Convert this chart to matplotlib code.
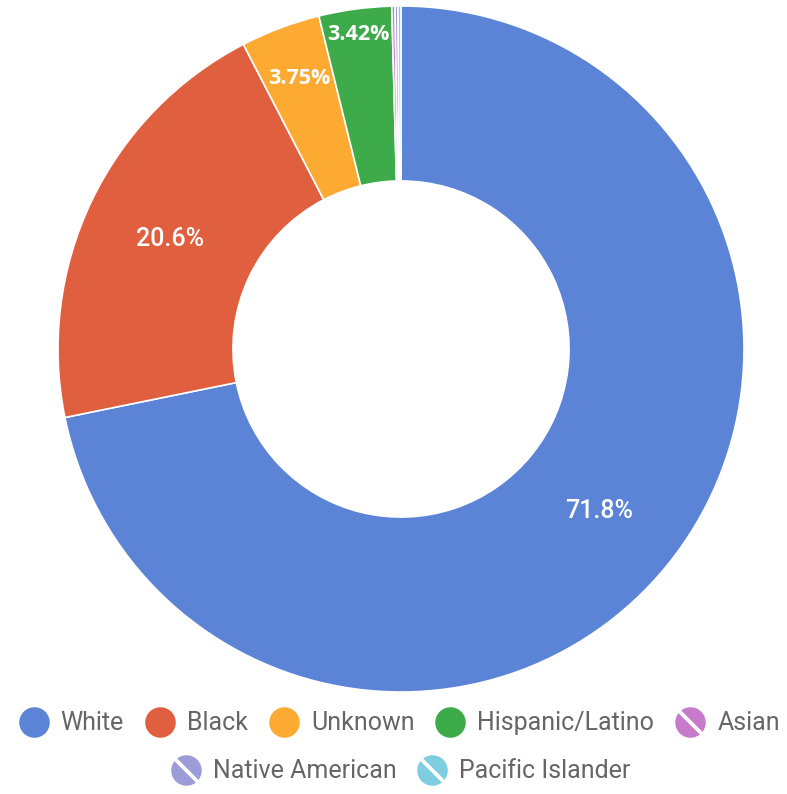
import numpy as np
import matplotlib
matplotlib.use("Agg")
import matplotlib.pyplot as plt
from matplotlib.patches import Patch
from matplotlib.lines import Line2D
from matplotlib.legend_handler import HandlerBase

labels = ["White", "Black", "Unknown", "Hispanic/Latino", "Asian",
          "Native American", "Pacific Islander"]
values = [71.8, 20.6, 3.75, 3.42, 0.15, 0.14, 0.14]
pct_text = ["71.8%", "20.6%", "3.75%", "3.42%", "", "", ""]
colors = ["#5b84d6", "#e05f3f", "#fdaa32", "#3eab4b", "#c97bcb",
          "#9c9cd8", "#7ecde0"]
striped = [False, False, False, False, True, True, True]


class CircleHandler(HandlerBase):
    """Кружок в легенде, по желанию с белой полосой"""
    def __init__(self, stripe=False):
        super().__init__()
        self.stripe = stripe

    def create_artists(self, legend, orig_handle, xdescent, ydescent,
                       width, height, fontsize, trans):
        cx = width / 2 - xdescent
        cy = height / 2 - ydescent
        dot = Line2D([cx], [cy], marker="o", markersize=23.5, ls="none",
                     markerfacecolor=orig_handle.get_facecolor(),
                     markeredgecolor="white", markeredgewidth=1.5,
                     transform=trans)
        arts = [dot]
        if self.stripe:
            # белая диагональ "\" через кружок
            ln = Line2D([cx], [cy], marker=(2, 2, 45), markersize=24,
                        ls="none", markeredgecolor="white",
                        markeredgewidth=2.5, transform=trans)
            arts.append(ln)
        return arts


fig = plt.figure(figsize=(7.87, 7.94), dpi=100)
W, H = 787, 794
cx_px, cy_px, R_px = 401, 349, 343
ax = fig.add_axes([(cx_px - R_px) / W, (H - cy_px - R_px) / H,
                   2 * R_px / W, 2 * R_px / H])

wedges, _ = ax.pie(values, colors=colors, startangle=90, counterclock=False,
                   radius=1.0,
                   wedgeprops=dict(width=0.51, edgecolor="white", linewidth=1.2))
ax.set_xlim(-1, 1)
ax.set_ylim(-1, 1)
ax.set_aspect("equal")
ax.axis("off")

# подписи процентов
label_r = [0.745, 0.745, 0.843, 0.925]
for i, w in enumerate(wedges[:4]):
    ang = np.deg2rad((w.theta1 + w.theta2) / 2)
    x, y = label_r[i] * np.cos(ang), label_r[i] * np.sin(ang)
    if i < 2:
        ax.text(x, y, pct_text[i], ha="center", va="center", color="white",
                fontsize=18, family="Roboto", fontweight="medium")
    else:
        ax.text(x, y, pct_text[i], ha="center", va="center", color="white",
                fontsize=15.5, family="Open Sans", fontweight="bold")

handles = [Patch(facecolor=c) for c in colors]
hmap = {h: CircleHandler(s) for h, s in zip(handles, striped)}

common = dict(frameon=False, loc="center", bbox_transform=fig.transFigure,
              handler_map=hmap, handlelength=1.36, handleheight=1.0,
              handletextpad=0.4, columnspacing=0.76, borderpad=0,
              prop={"family": "Roboto", "size": 18}, labelcolor="#666666")
leg1 = fig.legend(handles[:5], labels[:5], ncol=5,
                  bbox_to_anchor=(0.506, 1 - 723 / H), **common)
leg2 = fig.legend(handles[5:], labels[5:], ncol=2,
                  bbox_to_anchor=(0.508, 1 - 771 / H), **common)

fig.savefig("out.png", dpi=100)
